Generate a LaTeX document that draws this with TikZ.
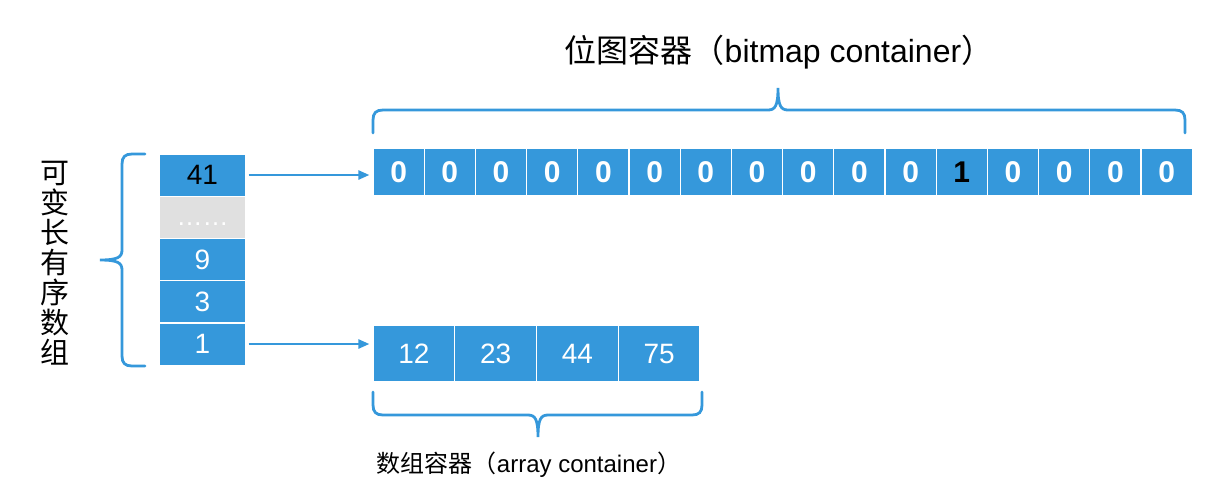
\documentclass[tikz,border=0pt]{standalone}
\usepackage{fontspec}
\setmainfont{Liberation Sans}
\newfontfamily\cjk{Noto Sans CJK SC}
\usetikzlibrary{arrows.meta,positioning,calc}
\usepackage{xcolor}
\definecolor{cellblue}{HTML}{3598DB}
\definecolor{cellgray}{HTML}{E0E0E0}

\begin{document}
\begin{tikzpicture}[x=0.5pt, y=-0.5pt,
    every node/.style={
        rectangle,
        inner sep=0pt
    },
    cell/.style={
        draw=white,
        line width=0.6pt,
        fill=cellblue,
        text=white,
        font=\fontsize{14}{14}\selectfont
    },
    bitcell/.style={cell, minimum width=25.6pt, minimum height=24pt, font=\fontsize{15}{15}\selectfont\bfseries},
    arraycell/.style={cell, minimum width=40.9pt, minimum height=28.5pt},
    sortedcell/.style={cell, minimum width=43.5pt, minimum height=21.1pt},
    brace/.style={draw=cellblue, line width=1.4pt, line cap=round},
    link/.style={draw=cellblue, line width=1.2pt, -{Triangle[length=5.5pt,width=4.5pt]}}
]

\useasboundingbox (0,0) rectangle (1229,489);

    % variable-length sorted array
    \node (sorted_41) [sortedcell, text=black, shift={(202.5,175)}]
    {
        41
    };

    \node (sorted_dots) [sortedcell, fill=cellgray, shift={(202.5,217.25)}]
    {
        \smash{\raisebox{-4pt}{\fontsize{13}{13}\selectfont ……}}
    };

    \node (sorted_9) [sortedcell, shift={(202.5,259.5)}]
    {
        9
    };

    \node (sorted_3) [sortedcell, shift={(202.5,301.75)}]
    {
        3
    };

    \node (sorted_1) [sortedcell, shift={(202.5,344)}]
    {
        1
    };

    \node (sorted_label) [align=center, font=\cjk\fontsize{14.5}{15}\selectfont, shift={(55,263)}]
    {
        可\\变\\长\\有\\序\\数\\组
    };



    % bitmap container
    \node (bitmap_0) [bitcell, shift={(398.6,172)}] {0};
    \node (bitmap_1) [bitcell, shift={(449.8,172)}] {0};
    \node (bitmap_2) [bitcell, shift={(501.0,172)}] {0};
    \node (bitmap_3) [bitcell, shift={(552.2,172)}] {0};
    \node (bitmap_4) [bitcell, shift={(603.4,172)}] {0};
    \node (bitmap_5) [bitcell, shift={(654.6,172)}] {0};
    \node (bitmap_6) [bitcell, shift={(705.8,172)}] {0};
    \node (bitmap_7) [bitcell, shift={(757.0,172)}] {0};
    \node (bitmap_8) [bitcell, shift={(808.2,172)}] {0};
    \node (bitmap_9) [bitcell, shift={(859.4,172)}] {0};
    \node (bitmap_10) [bitcell, shift={(910.6,172)}] {0};
    \node (bitmap_11) [bitcell, text=black, shift={(961.8,172)}] {1};
    \node (bitmap_12) [bitcell, shift={(1013.0,172)}] {0};
    \node (bitmap_13) [bitcell, shift={(1064.2,172)}] {0};
    \node (bitmap_14) [bitcell, shift={(1115.4,172)}] {0};
    \node (bitmap_15) [bitcell, shift={(1166.6,172)}] {0};

    \node (bitmap_label) [font=\fontsize{16}{16}\selectfont, shift={(779,52)}]
    {
        {\cjk 位图容器（}bitmap container{\cjk ）}
    };

    \draw[brace] (373,133) -- (373,120) .. controls (373,113) and (376,110) .. (383,110)
        -- (768,110) .. controls (775,110) and (778,106) .. (778,88)
        .. controls (778,106) and (781,110) .. (788,110)
        -- (1175,110) .. controls (1182,110) and (1185,113) .. (1185,120) -- (1185,133);



    % array container
    \node (array_12) [arraycell, shift={(413.9,353.5)}]
    {
        12
    };

    \node (array_23) [arraycell, shift={(495.6,353.5)}]
    {
        23
    };

    \node (array_44) [arraycell, shift={(577.4,353.5)}]
    {
        44
    };

    \node (array_75) [arraycell, shift={(659.1,353.5)}]
    {
        75
    };

    \node (array_label) [font=\fontsize{12}{12}\selectfont, shift={(529,465)}]
    {
        {\cjk 数组容器（}array container{\cjk ）}
    };

    \draw[brace] (373,392) -- (373,405) .. controls (373,412) and (376,415) .. (383,415)
        -- (528,415) .. controls (535,415) and (538,419) .. (538,437)
        .. controls (538,419) and (541,415) .. (548,415)
        -- (692,415) .. controls (699,415) and (702,412) .. (702,405) -- (702,392);

    \draw[brace] (145,154) -- (132,154) .. controls (125,154) and (122,157) .. (122,164)
        -- (122,250) .. controls (122,257) and (118,260) .. (100,260)
        .. controls (118,260) and (122,263) .. (122,270)
        -- (122,356) .. controls (122,363) and (125,366) .. (132,366) -- (145,366);


    \draw[link, shorten <=1pt, shorten >=1.5pt] (sorted_41.east) to (sorted_41.east -| bitmap_0.west);
    \draw[link, shorten <=1pt, shorten >=1.5pt] (sorted_1.east) to (sorted_1.east -| array_12.west);


\end{tikzpicture}
\end{document}
